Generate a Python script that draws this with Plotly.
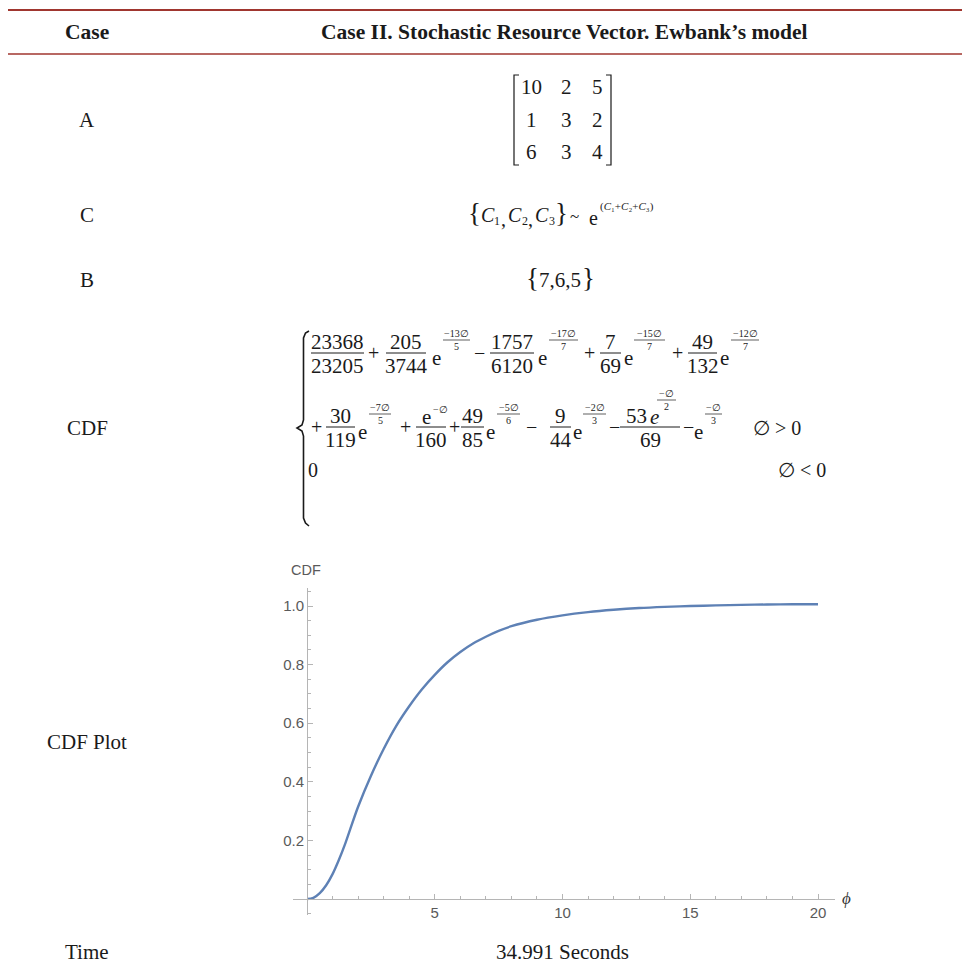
import plotly.graph_objects as go

W, H = 970, 964
SERIF = "Liberation Serif"
SANS = "Liberation Sans"
INK = "#1a1a1a"
RULE = "#a0362f"
AXIS = "#b5b5b5"
TICKTXT = "#5a5a5a"
CURVE = "#5e81b5"

# ---- table content ----
header_left = "Case"
header_right = "Case II. Stochastic Resource Vector. Ewbank’s model"
row_labels = ["A", "C", "B", "CDF", "CDF Plot", "Time"]
matrix_A = [[10, 2, 5], [1, 3, 2], [6, 3, 4]]
vector_B = [7, 6, 5]
time_text = "34.991 Seconds"

# ---- CDF curve ----
phi = [0.0, 0.25, 0.5, 0.75, 1.0, 1.25, 1.5, 2.0, 2.5, 3.0, 3.5, 4.0,
       4.5, 5.0, 5.5, 6.0, 6.5, 7.0, 7.5, 8.0, 9.0, 10.0, 11.0, 12.0, 13.0,
       14.0, 15.0, 16.0, 17.0, 18.0, 19.0, 20.0]
cdf = [0.0, 0.004, 0.02, 0.047, 0.085, 0.134, 0.19, 0.315, 0.42, 0.512,
       0.592, 0.658, 0.716, 0.765, 0.808, 0.843, 0.872, 0.895, 0.915,
       0.931, 0.953, 0.968, 0.979, 0.987, 0.993, 0.997, 1.0, 1.002, 1.004,
       1.005, 1.006, 1.006]
x_ticks = [5, 10, 15, 20]
y_ticks = [0.2, 0.4, 0.6, 0.8, 1.0]

annotations = []
shapes = []


def px(x):
    return x / W


def py(y):
    return 1 - y / H


def text(x, y, s, size=20, family=SERIF, color=INK, xanchor="center"):
    annotations.append(dict(
        x=px(x), y=py(y), xref="paper", yref="paper", text=s,
        showarrow=False, xanchor=xanchor, yanchor="middle",
        font=dict(family=family, size=size, color=color)))


def hline(x0, x1, y, width=1.0, color=INK):
    shapes.append(dict(type="line", xref="paper", yref="paper",
                       x0=px(x0), x1=px(x1), y0=py(y), y1=py(y),
                       line=dict(color=color, width=width)))


def path(points, width=1.2, color=INK):
    d = "M " + " L ".join(f"{px(a)},{py(b)}" for a, b in points)
    shapes.append(dict(type="path", xref="paper", yref="paper", path=d,
                       line=dict(color=color, width=width)))


def frac(x0, x1, ybar, num, den, size=21):
    cx = (x0 + x1) / 2
    if num:
        text(cx, ybar - 11, num, size)
    text(cx, ybar + 13, den, size)
    hline(x0, x1, ybar, 1.0)


def small_frac(x0, x1, ybar, num, den, size=10):
    cx = (x0 + x1) / 2
    text(cx, ybar - 7, num, size)
    text(cx, ybar + 6, den, size)
    hline(x0, x1, ybar, 0.7)


def exp_term(ex, x0, x1, ybar, num, den):
    # "e" raised to a small fraction
    text(ex, ybar + 5, "e", 21)
    small_frac(x0, x1, ybar - 13, num, den)


# ---- rules and header ----
hline(8, 962, 10, 2.2, RULE)
hline(8, 962, 54, 1.4, RULE)
text(87, 32, f"<b>{header_left}</b>", 21.5)
text(564, 32, f"<b>{header_right}</b>", 21.5)

# ---- row labels ----
label_y = [120, 215, 280, 428, 742, 952]
for lab, yy in zip(row_labels, label_y):
    text(87, yy, lab, 21)

# ---- matrix A ----
col_x = [531, 566, 597]
row_y = [87, 120, 152]
for r, yy in zip(matrix_A, row_y):
    for v, xx in zip(r, col_x):
        text(xx, yy, str(v), 21)
path([(519, 75), (514, 75), (514, 165), (519, 165)])
path([(606, 75), (611, 75), (611, 165), (606, 165)])

# ---- C: {C1, C2, C3} ~ e^(C1+C2+C3) ----
text(474, 213, "{", 27)
for i, cx in enumerate([488, 515, 542], start=1):
    text(cx, 215, "<i>C</i>", 20)
    text(cx + 9.5, 221, str(i), 12)
text(503, 219, ",", 20)
text(530.5, 219, ",", 20)
text(561, 213, "}", 27)
text(574, 217, "~", 17)
text(593, 218, "e", 20)
text(627, 206, "(<i>C</i>₁+<i>C</i>₂+<i>C</i>₃)", 11)

# ---- B ----
text(532, 278, "{", 27)
text(560, 280, ",".join(str(v) for v in vector_B), 21)
text(588, 278, "}", 27)

# ---- CDF expression ----
# big brace of the piecewise definition
path([(309, 331), (305.5, 333), (303.5, 338), (303.5, 420), (302, 425), (297, 428),
      (302, 431), (303.5, 436), (303.5, 518), (305.5, 523), (309, 526)], 1.6)

b1 = 353
frac(311, 364, b1, "23368", "23205")
text(373, b1, "+", 20)
frac(386, 426, b1, "205", "3744")
exp_term(436, 443, 470, b1, "−13∅", "5")
text(479, b1, "−", 20)
frac(490, 534, b1, "1757", "6120")
exp_term(542, 549, 578, b1, "−17∅", "7")
text(589, b1, "+", 20)
frac(600, 621, b1, "7", "69")
exp_term(628, 634, 665, b1, "−15∅", "7")
text(677, b1, "+", 20)
frac(688, 717, b1, "49", "132")
exp_term(724, 731, 759, b1, "−12∅", "7")

b2 = 427
text(316, b2, "+", 20)
frac(326, 355, b2, "30", "119")
exp_term(362, 369, 391, b2, "−7∅", "5")
text(405, b2, "+", 20)
frac(416, 446, b2, None, "160")
text(426, b2 - 10, "e", 21)
text(440, b2 - 18, "−∅", 10)
text(454, b2, "+", 20)
frac(461, 484, b2, "49", "85")
exp_term(490, 497, 520, b2, "−5∅", "6")
text(531, b2, "−", 20)
frac(550, 571, b2, "9", "44")
exp_term(577, 583, 606, b2, "−2∅", "3")
text(614, b2, "−", 20)
frac(620, 680, b2, None, "69")
text(636, b2 - 11, "53", 21)
text(654, b2 - 10, "<i>e</i>", 21)
small_frac(657, 676, b2 - 27, "−∅", "2")
text(688, b2, "−", 20)
exp_term(698, 705, 722, b2, "−∅", "3")
text(777, b2 + 1, "∅ > 0", 20)

text(313, 470, "0", 20)
text(802, 470, "∅ < 0", 20)

# ---- time ----
text(562, 952, time_text, 21)

# ---- CDF plot ----
X0_PX, X20_PX = 307, 818          # pixel columns of phi = 0 and phi = 20
Y0_PX, Y1_PX = 899, 606           # pixel rows of CDF = 0 and CDF = 1
sx = (X20_PX - X0_PX) / 20
sy = (Y0_PX - Y1_PX) / 1.0
dom_l, dom_r, dom_t, dom_b = 293, 835, 588, 915
x_range = [(dom_l - X0_PX) / sx, (dom_r - X0_PX) / sx]
y_range = [-(dom_b - Y0_PX) / sy, (Y0_PX - dom_t) / sy]

fig = go.Figure()
fig.add_trace(go.Scatter(x=phi, y=cdf, mode="lines", line_shape="spline",
                         line=dict(color=CURVE, width=2.4),
                         hoverinfo="skip", showlegend=False))

text(306, 570, "CDF", 14.5, SANS, TICKTXT)
text(846, 898, "<i>ϕ</i>", 17, SERIF, "#333333")

fig.update_layout(
    width=W, height=H,
    margin=dict(l=0, r=0, t=0, b=0),
    paper_bgcolor="white", plot_bgcolor="rgba(0,0,0,0)",
    xaxis=dict(domain=[px(dom_l), px(dom_r)], range=x_range,
               anchor="free", position=py(Y0_PX),
               showline=True, linecolor=AXIS, linewidth=1,
               showgrid=False, zeroline=False,
               tickvals=x_ticks, ticks="inside", ticklen=5, tickcolor=AXIS,
               tickfont=dict(family=SANS, size=15, color=TICKTXT),
               minor=dict(dtick=1, tick0=0, ticks="inside", ticklen=3,
                          tickcolor=AXIS, showgrid=False)),
    yaxis=dict(domain=[py(dom_b), py(dom_t)], range=y_range,
               anchor="free", position=px(X0_PX),
               showline=True, linecolor=AXIS, linewidth=1,
               showgrid=False, zeroline=False,
               tickvals=y_ticks, ticktext=[f"{v:.1f}" for v in y_ticks],
               ticks="inside", ticklen=5, tickcolor=AXIS,
               tickfont=dict(family=SANS, size=15, color=TICKTXT),
               minor=dict(dtick=0.05, tick0=0, ticks="inside", ticklen=3,
                          tickcolor=AXIS, showgrid=False)),
    annotations=annotations,
    shapes=shapes,
)

fig.write_html("out.html")
